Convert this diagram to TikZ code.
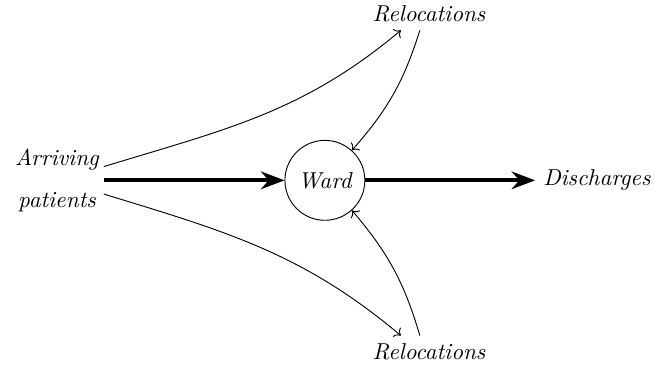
\documentclass[tikz,border=0pt]{standalone}
\usepackage{amsmath}
\usepackage{tikz}
\usetikzlibrary{arrows.meta, positioning}

\begin{document}
\begin{tikzpicture}[
    flow/.style={-Stealth, line width=1.6pt},
    reloc/.style={->, thin},
    lbl/.style={font=\itshape}
]
    \useasboundingbox (0,0) rectangle (10,5.603);

    % Nodes
    \node[lbl, align=center, inner sep=2pt] (arrive) at (0.87,2.85) {Arriving\\[6pt]patients};
    \node[lbl, draw, circle, minimum size=1.22cm, inner sep=0pt] (ward) at (4.96,2.85) {Ward};
    \node[lbl, anchor=west] (disch) at (8.17,2.85) {Discharges};
    \node[lbl] (relup) at (6.55,5.39) {Relocations};
    \node[lbl] (reldown) at (6.55,0.23) {Relocations};

    % Main flow
    \draw[flow] (arrive.east) -- (ward.west);
    \draw[flow] (ward.east) -- (disch.west);

    % Relocations out of the stream
    \draw[reloc] ([yshift=0.21cm]arrive.east) to[out=17, in=-140] ([xshift=-0.43cm]relup.south);
    \draw[reloc] ([yshift=-0.21cm]arrive.east) to[out=-17, in=140] ([xshift=-0.43cm]reldown.north);

    % Relocations into the ward
    \draw[reloc] ([xshift=-0.14cm]relup.south) to[bend left=12] (ward.48);
    \draw[reloc] ([xshift=-0.14cm]reldown.north) to[bend right=12] (ward.-48);
\end{tikzpicture}
\end{document}
